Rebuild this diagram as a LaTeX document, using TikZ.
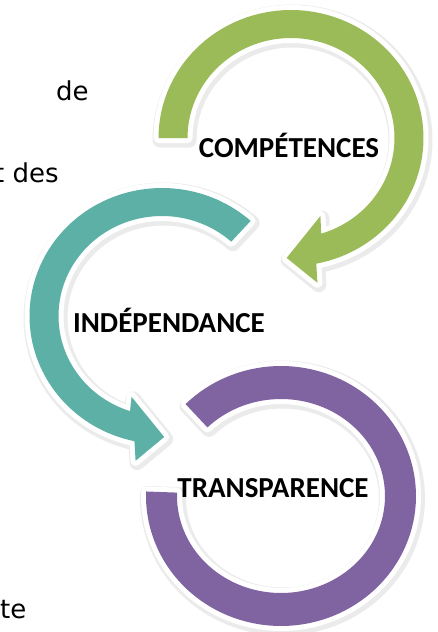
\documentclass[tikz,border=0pt]{standalone}
\usepackage{fontspec}
\newfontfamily\labfont{Carlito}
\newfontfamily\bgfont{DejaVu Sans}
\definecolor{cgreen}{HTML}{9BBB59}
\definecolor{cteal}{HTML}{5DB0A6}
\definecolor{cpurple}{HTML}{8064A2}
\begin{document}
\begin{tikzpicture}[x=1pt,y=-1pt,
  halo/.style={draw=black,draw opacity=0.08,line width=15pt,line join=round},
  rim/.style={draw=white,line width=10pt,line join=round},
  lab/.style={font=\labfont\bfseries\fontsize{29}{29}\selectfont,anchor=base,inner sep=0pt},
  bgtext/.style={font=\bgfont\fontsize{26}{26}\selectfont,anchor=base west,inner sep=0pt}]
\useasboundingbox (0,0) rectangle (438,632);
\fill[white] (0,0) rectangle (438,632);
% background text fragments
\node[bgtext] (t1) at (56,100) {de};
\node[bgtext] (t2) at (-6,182) {t des};
\node[bgtext] (t3) at (0,618) {te};
% paths
\def\greenpath{plot[domain=180:439,samples=100] ({291+132.5*cos(\x)},{138+128*sin(\x)})
  -- ({291+1.035*147*cos(440)},{138+147*sin(440)})
  -- ({291+1.035*120*cos(452)},{138+120*sin(452)})
  -- ({291+1.035*83*cos(430)},{138+83*sin(430)})
  -- plot[domain=433:180,samples=100] ({291+103.5*cos(\x)},{138+100*sin(\x)}) -- cycle}
\def\tealpath{plot[domain=312:102,samples=100] ({162+132.5*cos(\x)},{316+128*sin(\x)})
  -- ({162+1.035*147*cos(100)},{316+147*sin(100)})
  -- ({162+1.035*121*cos(89)},{316+121*sin(89)})
  -- ({162+1.035*86*cos(110)},{316+86*sin(110)})
  -- plot[domain=108:312,samples=100] ({162+103.5*cos(\x)},{316+100*sin(\x)}) -- cycle}
\def\purplepath{plot[domain=225:542,samples=120] ({281+135*cos(\x)},{496+130*sin(\x)})
  -- plot[domain=542:225,samples=120] ({281+104*cos(\x)},{496+97*sin(\x)}) -- cycle}
% green
\begin{scope}[shift={(1.5,2)}]\draw[halo] \greenpath;\end{scope}
\draw[rim] \greenpath;
\fill[cgreen] \greenpath;
% teal
\begin{scope}[shift={(1.5,2)}]\draw[halo] \tealpath;\end{scope}
\draw[rim] \tealpath;
\fill[cteal] \tealpath;
% purple
\begin{scope}[shift={(1.5,2)}]\draw[halo] \purplepath;\end{scope}
\draw[rim] \purplepath;
\fill[cpurple] \purplepath;
% labels
\node[lab] (comp) at (289,157) {COMPÉTENCES};
\node[lab] (indep) at (169,332) {INDÉPENDANCE};
\node[lab] (transp) at (273,497) {TRANSPARENCE};
\end{tikzpicture}
\end{document}
